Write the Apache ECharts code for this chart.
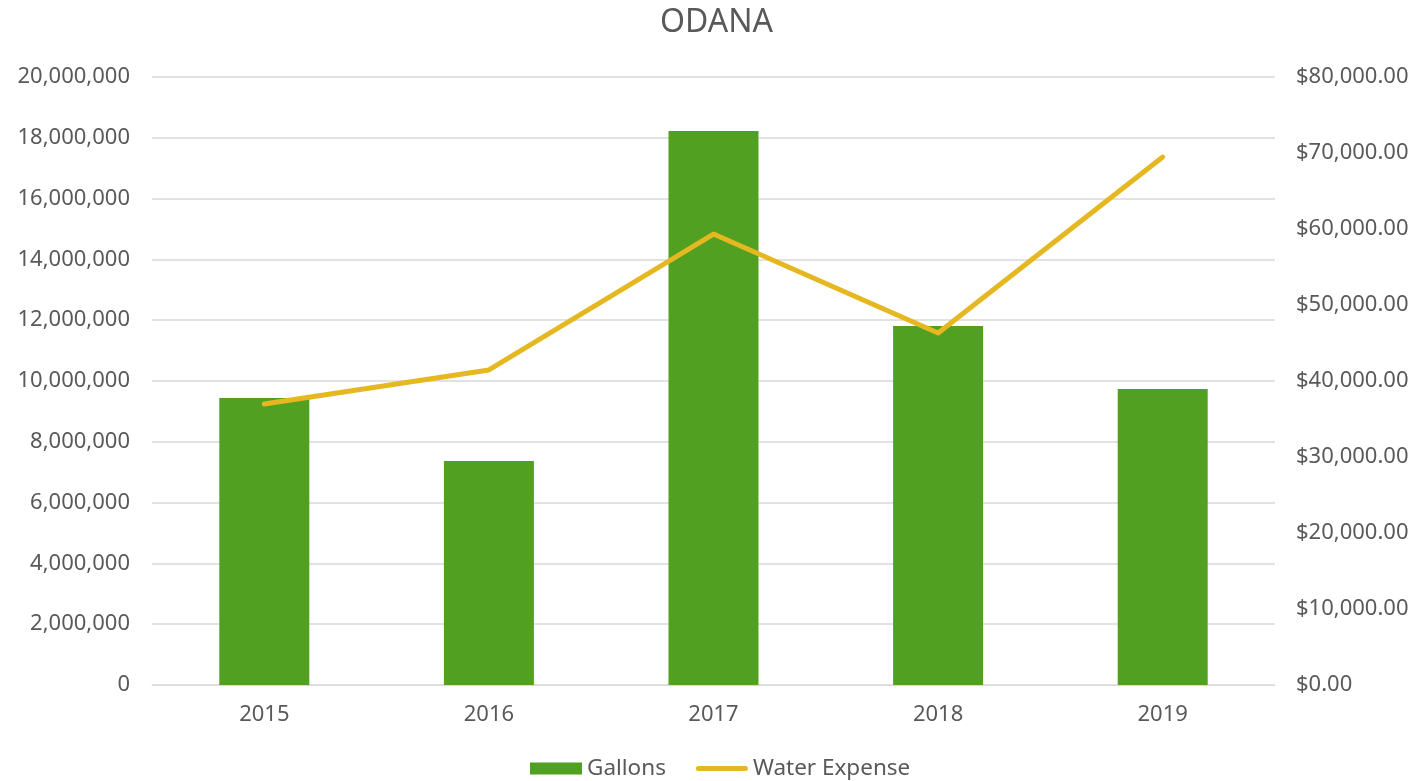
<!DOCTYPE html>
<html>
<head>
<meta charset="utf-8">
<script src="https://cdn.jsdelivr.net/npm/echarts@6/dist/echarts.min.js"></script>
<style>
  html, body { margin: 0; padding: 0; background: #fff; }
  #chart { width: 1417px; height: 781px; }
</style>
</head>
<body>
<div id="chart"></div>
<script>
const years = ['2015', '2016', '2017', '2018', '2019'];
const gallons = [9440000, 7370000, 18220000, 11810000, 9740000];
const waterExpense = [36970, 41450, 59340, 46320, 69470];

const COLORS = {
  bar:  '#52A021',
  line: '#E5B822',
  text: '#595959',
  grid: '#D9D9D9',
};
const FONT = 'Noto Sans';

const chart = echarts.init(document.getElementById('chart'), null, { renderer: 'canvas' });

chart.setOption({
  backgroundColor: '#fff',
  animation: false,
  textStyle: { fontFamily: FONT },
  title: {
    text: 'ODANA',
    left: 655,
    top: 2,
    textStyle: { color: COLORS.text, fontSize: 32, fontWeight: 'normal', fontFamily: FONT },
  },
  legend: {
    top: 752,
    left: 525,
    itemWidth: 52,
    itemHeight: 12,
    itemGap: 30,
    textStyle: { color: COLORS.text, fontSize: 22.5, fontFamily: FONT },
    data: [
      { name: 'Gallons', icon: 'rect' },
      { name: 'Water Expense', icon: 'path://M2.5,0 H49.5 A2.5,2.5 0 0 1 49.5,5 H2.5 A2.5,2.5 0 0 1 2.5,0 Z', itemStyle: { color: COLORS.line } },
    ],
  },
  grid: { left: 152, right: 142, top: 77, bottom: 96, containLabel: false },
  xAxis: {
    type: 'category',
    data: years,
    axisTick: { show: false },
    axisLine: { lineStyle: { color: COLORS.grid, width: 1 } },
    axisLabel: { color: COLORS.text, fontSize: 22, margin: 19, fontFamily: FONT },
  },
  yAxis: [
    {
      type: 'value',
      min: 0,
      max: 20000000,
      interval: 2000000,
      axisLine: { show: false },
      axisTick: { show: false },
      splitLine: { lineStyle: { color: COLORS.grid, width: 1.5 } },
      axisLabel: {
        color: COLORS.text,
        fontSize: 22,
        margin: 22,
        fontFamily: FONT,
        formatter: (v) => v.toLocaleString('en-US'),
      },
    },
    {
      type: 'value',
      min: 0,
      max: 80000,
      interval: 10000,
      position: 'right',
      axisLine: { show: false },
      axisTick: { show: false },
      splitLine: { show: false },
      axisLabel: {
        color: COLORS.text,
        fontSize: 22,
        margin: 21,
        fontFamily: FONT,
        formatter: (v) => '$' + v.toLocaleString('en-US', { minimumFractionDigits: 2, maximumFractionDigits: 2 }),
      },
    },
  ],
  series: [
    {
      name: 'Gallons',
      type: 'bar',
      yAxisIndex: 0,
      data: gallons,
      barWidth: 90,
      itemStyle: { color: COLORS.bar },
    },
    {
      name: 'Water Expense',
      type: 'line',
      yAxisIndex: 1,
      data: waterExpense,
      symbol: 'none',
      lineStyle: { color: COLORS.line, width: 5, cap: 'round', join: 'round' },
      itemStyle: { color: COLORS.line },
    },
  ],
});
</script>
</body>
</html>
